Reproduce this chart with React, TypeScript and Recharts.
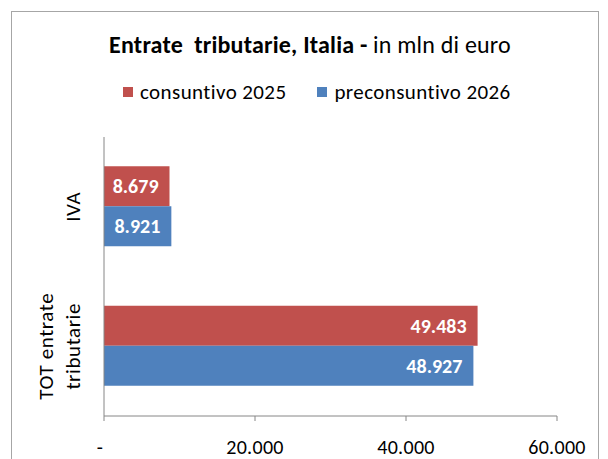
import { Bar, BarChart, LabelList, XAxis, YAxis } from "recharts";

const categories = ["IVA", "TOT entrate tributarie"];
const consuntivo2025 = [8679, 49483];
const preconsuntivo2026 = [8921, 48927];
const xTicks = [0, 20000, 40000, 60000];

const data = categories.map((name, i) => ({
  name,
  consuntivo: consuntivo2025[i],
  preconsuntivo: preconsuntivo2026[i],
}));

const FONT = "Carlito, Calibri, Lato, sans-serif";
const RED = "#C0504D";
const BLUE = "#4F81BD";
const AXIS = "#868686";

const fmt = (v: number) =>
  v === 0 ? "-" : String(v).replace(/\B(?=(\d{3})+(?!\d))/g, ".");

const XTick = ({ x, y, payload }: any) => (
  <text
    x={payload.value === 0 ? x - 4 : x}
    y={y + 24}
    textAnchor="middle"
    dominantBaseline="central"
    fontFamily={FONT}
    fontSize={20}
    letterSpacing={0.3}
    fill="#000"
  >
    {fmt(payload.value)}
  </text>
);

const YTick = ({ x, y, payload }: any) => {
  const lines =
    payload.value === "IVA" ? ["IVA"] : ["TOT entrate", "tributarie"];
  const lineH = 27;
  const lastX = x - 23;
  return (
    <g>
      {lines.map((ln, i) => {
        const lx = lastX - (lines.length - 1 - i) * lineH;
        return (
          <text
            key={ln}
            x={lx}
            y={y}
            transform={`rotate(-90 ${lx} ${y})`}
            textAnchor="middle"
            dominantBaseline="central"
            fontFamily={FONT}
            fontSize={21}
            letterSpacing={0.6}
            fill="#000"
          >
            {ln}
          </text>
        );
      })}
    </g>
  );
};

const LegendItem = ({ color, label }: { color: string; label: string }) => (
  <span style={{ display: "inline-flex", alignItems: "center" }}>
    <span
      style={{
        width: 10,
        height: 10,
        background: color,
        display: "inline-block",
        marginRight: 7,
      }}
    />
    {label}
  </span>
);

const App = () => {
  return (
    <div
      style={{
        position: "absolute",
        left: 0,
        top: 0,
        width: 608,
        height: 459,
        background: "#fff",
        overflow: "hidden",
        fontFamily: FONT,
      }}
    >
      <div
        style={{
          position: "absolute",
          left: 11,
          top: 11,
          width: 586,
          height: 470,
          border: "1px solid #A6A6A6",
        }}
      />
      <div
        style={{
          position: "absolute",
          left: 0,
          width: 620,
          top: 29,
          textAlign: "center",
          fontSize: 24,
          letterSpacing: 0.2,
          lineHeight: "32px",
          color: "#000",
        }}
      >
        <b>Entrate&nbsp; tributarie, Italia -</b> in mln di euro
      </div>
      <div
        style={{
          position: "absolute",
          left: 123,
          top: 77,
          fontSize: 21,
          letterSpacing: 0.4,
          lineHeight: "30px",
          display: "flex",
          gap: 31,
          color: "#000",
        }}
      >
        <LegendItem color={RED} label="consuntivo 2025" />
        <LegendItem color={BLUE} label="preconsuntivo 2026" />
      </div>
      <div style={{ position: "absolute", left: 0, top: 0 }}>
        <BarChart
          width={608}
          height={459}
          data={data}
          layout="vertical"
          margin={{ top: 137, right: 51, bottom: 0, left: 0 }}
          barCategoryGap="21%"
          barGap={0}
        >
          <XAxis
            type="number"
            domain={[0, 60000]}
            ticks={xTicks}
            height={43}
            axisLine={{ stroke: AXIS }}
            tickLine={{ stroke: AXIS }}
            tickSize={5}
            tick={<XTick />}
          />
          <YAxis
            type="category"
            dataKey="name"
            width={104}
            axisLine={{ stroke: AXIS }}
            tickLine={false}
            tick={<YTick />}
          />
          <Bar dataKey="consuntivo" fill={RED} isAnimationActive={false}>
            <LabelList
              dataKey="consuntivo"
              position="insideRight"
              offset={11}
              formatter={(v: any) => fmt(Number(v))}
              fill="#fff"
              fontWeight="bold"
              fontSize={20}
              fontFamily={FONT}
            />
          </Bar>
          <Bar dataKey="preconsuntivo" fill={BLUE} isAnimationActive={false}>
            <LabelList
              dataKey="preconsuntivo"
              position="insideRight"
              offset={11}
              formatter={(v: any) => fmt(Number(v))}
              fill="#fff"
              fontWeight="bold"
              fontSize={20}
              fontFamily={FONT}
            />
          </Bar>
        </BarChart>
      </div>
    </div>
  );
};

export default App;
